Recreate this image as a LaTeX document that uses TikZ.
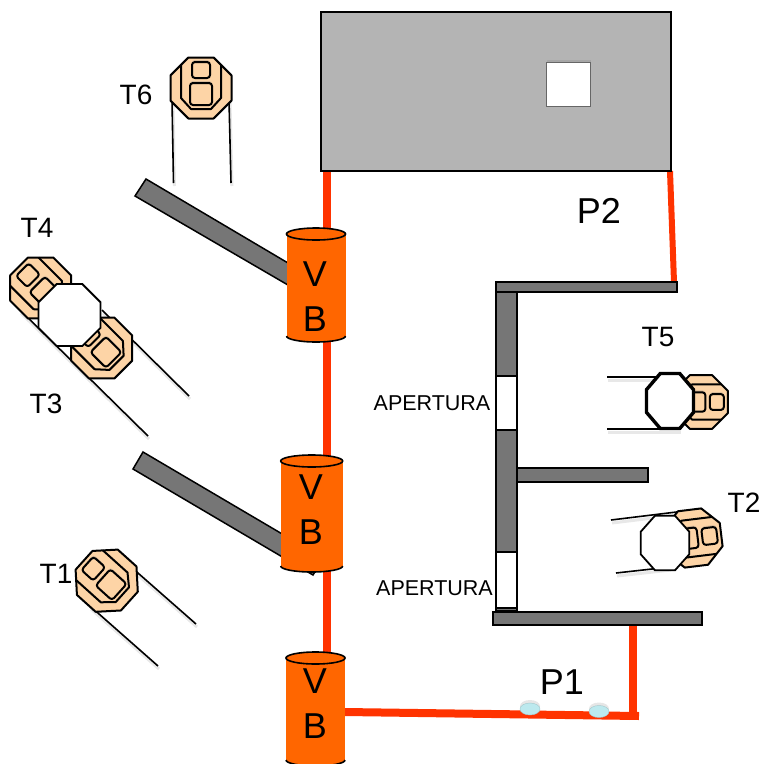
\documentclass[tikz,border=0pt]{standalone}
\usepackage{fontspec}
\setmainfont{Liberation Sans}
\usetikzlibrary{
  positioning,
  calc,
  backgrounds,
  shadows,
  shapes.geometric
}
\definecolor{peach}{HTML}{FDD4A6}
\definecolor{tankgray}{HTML}{B4B4B4}
\definecolor{wallgray}{HTML}{767676}
\definecolor{vborange}{HTML}{FF6600}
\definecolor{piperred}{HTML}{FF3300}
\definecolor{dropblue}{HTML}{BCE9EE}
\tikzstyle{tank}=[draw=black,line width=1.5,fill=tankgray,inner sep=0,outer sep=0]
\tikzstyle{hatch}=[draw=black!60,fill=white,inner sep=0,outer sep=0,drop shadow={opacity=0.25,shadow xshift=1,shadow yshift=-2}]
\tikzstyle{wall}=[draw=black,line width=1.5,fill=wallgray,inner sep=0,outer sep=0,anchor=north west]
\tikzstyle{opening}=[draw=black,line width=1.5,fill=white,inner sep=0,outer sep=0,anchor=north west]
\tikzstyle{arm}=[draw=black,line width=1.5,fill=wallgray]
\tikzstyle{vbbox}=[fill=vborange,inner sep=0,outer sep=0]
\tikzstyle{vbtext}=[inner sep=0,align=center,font=\fontsize{36}{45}\selectfont]
\tikzstyle{vbrim}=[draw=black,line width=1.6,fill=vborange]
\tikzstyle{pipe}=[draw=piperred,line width=8]
\tikzstyle{pipethin}=[draw=piperred,line width=6]
\tikzstyle{tail}=[black,line width=1.6,preaction={draw=black!9,line width=3,transform canvas={xshift=1,yshift=-3}}]
\tikzstyle{seat}=[draw=black,fill=peach,rounded corners=3,drop shadow={opacity=0.3,shadow xshift=0,shadow yshift=-2}]
\tikzstyle{octa}=[regular polygon,regular polygon sides=8,draw=black,line width=1.8,fill=white,inner sep=0,outer sep=0]
\tikzstyle{drop}=[ellipse,draw=dropblue!85!black,fill=dropblue,inner sep=0,outer sep=0,minimum width=20,minimum height=12,drop shadow={opacity=0.2,shadow xshift=0,shadow yshift=-3}]
\tikzstyle{tname}=[inner sep=0,font=\fontsize{28}{28}\selectfont]
\tikzstyle{pname}=[inner sep=0,font=\fontsize{36}{36}\selectfont]
\tikzstyle{opname}=[inner sep=0,font=\fontsize{21.5}{21.5}\selectfont]

\begin{document}
\begin{tikzpicture}[x=1pt,y=-1pt]
    \useasboundingbox (0,0) rectangle (763,764);
    % center, rotation, scale
    \def\tractor#1#2#3{
      \begin{scope}[shift={(#1)},rotate=#2,scale=#3,line width=2,line join=round]
        \draw[fill=peach] (-12.6,-30.5) -- (12.6,-30.5) -- (30.5,-12.6) -- (30.5,12.6)
          -- (12.6,30.5) -- (-12.6,30.5) -- (-30.5,12.6) -- (-30.5,-12.6) -- cycle;
        \draw (-20,-23.1) -- (-20,10) -- (-10,21) -- (10,21) -- (20,10) -- (20,-23.1);
        \draw[seat] (-9,-26) rectangle (9,-10);
        \draw[seat] (-11,-5) rectangle (11,17);
      \end{scope}
    }

    % TANK
    \node[tank,minimum width=350,minimum height=159,anchor=north west] (tank) at (321,12) {};
    \node[hatch,minimum size=44,anchor=north west] (hatch) at (546,62) {};

    % WALLS
    \node[wall,minimum width=21,minimum height=320] (wallv) at (496,291) {};
    \node[wall,minimum width=181,minimum height=10] (wallt) at (496,282) {};
    \node[wall,minimum width=131,minimum height=14] (wallm) at (517,468) {};
    \node[wall,minimum width=209,minimum height=13] (wallb) at (493,612) {};
    \node[opening,minimum width=21,minimum height=54] (opena) at (496,376) {};
    \node[opening,minimum width=21,minimum height=56] (openb) at (496,552) {};
    \node[opname] (lopena) at (432,403) {APERTURA};
    \node[opname] (lopenb) at (434.5,588) {APERTURA};

    % VB
    \node[vbbox,minimum width=59,minimum height=102] (vba) at (316,285) {};
    \node[vbbox,minimum width=62,minimum height=105] (vbb) at (311.7,513.5) {};
    \node[vbbox,minimum width=59,minimum height=102] (vbc) at (315.5,709) {};
    \begin{scope}[on background layer]
      % ARMS
      \draw[arm] (146,179) -- (310,276) -- (300,292) -- (135,196) -- cycle;
      \draw[arm] (143,452) -- (323,558) -- (313,575) -- (133,469) -- cycle;
      % PIPES
      \coordinate (pipex) at (327,0);
      \coordinate (pipez) at (326.5,0);
      \coordinate (bend) at (639,716);
      \coordinate (bendv) at (632.5,720);
      \draw[pipe] (tank.south -| pipex) -- ($(vba.north -| pipex)+(0,-4)$);
      \draw[pipe] (vba.south -| pipez) -- ($(vbb.north -| pipez)+(0,-4)$);
      \draw[pipe] (vbb.south -| pipez) -- ($(vbc.north -| pipez)+(0,-4)$);
      \draw[pipethin] ($(tank.south east)+(-1,0)$) -- ($(wallt.north east)+(-3,0)$);
      \draw[pipe] ($(vbc.east)+(0,3)$) -- (bend);
      \draw[pipe] (bendv) -- (wallb.south -| bendv);
    \end{scope}
    \draw[vbrim] (vba.north) ellipse (29.5 and 6);
    \draw[vbrim] (vba.south west) arc[start angle=180,end angle=360,x radius=29.5,y radius=-6];
    \draw[vbrim] (vbb.north) ellipse (31 and 6);
    \draw[vbrim] (vbb.south west) arc[start angle=180,end angle=360,x radius=31,y radius=-6];
    \draw[vbrim] (vbc.north) ellipse (29.5 and 6);
    \draw[vbrim] (vbc.south west) arc[start angle=180,end angle=360,x radius=29.5,y radius=-6];
    \node[vbtext] (vbat) at (315,296.5) {V\\B};
    \node[vbtext] (vbbt) at (311,510) {V\\B};
    \node[vbtext] (vbct) at (315,703.5) {V\\B};

    \node[drop] (dropa) at (530,709) {};
    \node[drop] (dropb) at (599,711.5) {};

    % T6
    \draw[tail] (172,100) -- (173.5,183);
    \draw[tail] (229,100) -- (231,183);
    \tractor{201,88}{0}{1}
    % T1
    \draw[tail] (130,566) -- (196,624);
    \draw[tail] (90,606) -- (158,666);
    \tractor{106.7,580.7}{48}{1}
    % T4 T3
    \draw[tail] (20,310) -- (148,436);
    \draw[tail] (102,310) -- (189,396);
    \tractor{40.7,288}{45}{1}
    \tractor{101.7,348}{45}{1}
    \node[octa,minimum size=67] (octaa) at (69.5,315) {};
    % T5
    \draw[tail] (607,377) -- (680,377);
    \draw[tail] (607,429) -- (680,429);
    \tractor{701,402}{-90}{0.88}
    \node[octa,minimum size=59.5,xscale=0.855,transform shape,line width=3.4] (octab) at (670,401) {};
    % T2
    \draw[tail] (611,520) -- (701,509);
    \draw[tail] (616,573) -- (670,567);
    \tractor{693,538}{-83}{0.93}
    \node[octa,minimum size=59,xscale=0.89,transform shape] (octac) at (665,543) {};

    % NAMES
    \node[tname] (ltsix) at (136,95) {T6};
    \node[tname] (ltfour) at (37,228) {T4};
    \node[tname] (ltthree) at (46,404) {T3};
    \node[tname] (ltone) at (56,574) {T1};
    \node[tname] (ltfive) at (658,337) {T5};
    \node[tname] (lttwo) at (744,503) {T2};
    \node[pname] (lptwo) at (599,211) {P2};
    \node[pname] (lpone) at (562,682) {P1};
\end{tikzpicture}
\end{document}
